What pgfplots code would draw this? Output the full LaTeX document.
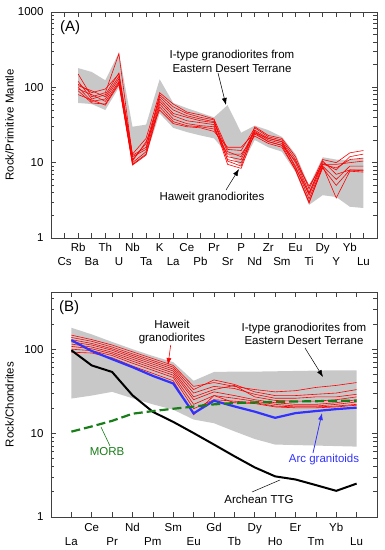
\documentclass[border=0pt]{standalone}
\usepackage{fontspec}
\setmainfont{Liberation Sans}
\usepackage{pgfplots}
\usepackage{pgfplotstable}
\pgfplotsset{compat=1.18}
\usetikzlibrary{arrows.meta}
\definecolor{envgray}{RGB}{200,200,200}
\definecolor{arcblue}{RGB}{50,50,255}
\definecolor{morbgreen}{RGB}{25,125,25}
\newcommand{\lbl}{\fontsize{11.5}{13.5}\selectfont}

\pgfplotstableread{
x r1 r2 r3 r4 r5 r6 r7 r8
1 150 120 110 105 100 95 90 80
2 75 70 85 90 65 80 62 68
3 85 80 95 75 70 65 60 58
4 280 155 150 140 130 120 115 110
5 12 13 11 12.5 10 9.5 9.3 10.5
6 15 21 18 16 14 13 12.6 19
7 80 85 75 70 65 60 55 50
8 55 60 50 45 42 38 35 33
9 45 47 42 40 36 33 31 30
10 40 43 38 36 34 31 30 29
11 37 38 35 34 32 30 28 26
12 10.5 15 14 12 9.5 11 13 16
13 9 14.5 12 11 8.4 10 13 16
14 30 29 27 26 25 24 22.5 25
15 23 22 21 20 21 19 18 19
16 21 20 19 18 19 17 16 17
17 12 11 10 9 8.5 8 8 10.5
18 4.5 4 3.7 3.3 3.9 3 2.9 4.9
19 11 10 9.5 9 10.5 8.5 9 9.5
20 10 8 9.5 6 7 5 3.4 8.5
21 13.5 12 10 9 8 8 7.7 11
22 14.5 13 10.5 9 8 7.8 7.5 11.5
}\tabA

\pgfplotstableread{
x r1 r2 r3 r4 r5 r6 r7 r8 arc ttg morb
0 147 138 130 122 115 108 100 92 128 97 10.4
1 130 124 117 112 106 101 96 90 95 64 12
2 112 106 101 97 92 88 84 79 76 53.5 14
3 93 88 84 80 76 72 68 63 61 28.2 17
4 nan nan nan nan nan nan nan nan 48 17.9 18.3
5 64 61 58 55 52 49 46 42 39 13.6 19.5
6 36 33 30 27 25 22 19.5 16.5 17.2 10 20.7
7 40 43 36 33 31 28 25 28 24.3 7.3 22
8 36 38 34 37 28 26 24 23 20.8 5.3 22.8
9 33 31 29 27 25 24 23 22.5 18 3.9 23.2
10 31 28 26 24.5 23 22 21 20.5 15.2 3.05 23.5
11 32 28 26 24 22 21 20.5 20 17.3 2.8 23.8
12 35 29 27 24 22 21 20.5 20 18.3 2.4 24
13 37 30 27 25 23 22 21 20.5 19.3 2.05 24.2
14 40 33 29 27 25 23.5 22 21.5 20.1 2.5 24.3
}\tabB

\pgfplotsset{
  spideraxis/.style={
    scale only axis, width=326pt, anchor=south west,
    axis line style={black!75, line width=0.8pt},
    tick style={black!75, line width=0.6pt},
    tick align=inside, major tick length=5pt, minor tick length=3.5pt,
    log ticks with fixed point,
    tick label style={font=\lbl},
    xticklabel style={anchor=base, yshift=-14pt},
    yticklabel style={xshift=-4pt},
    every axis y label/.style={at={(axis description cs:0,0.5)}, xshift=-41.5pt, rotate=90, anchor=center, font=\lbl},
    extra x tick style={xticklabel style={yshift=-14pt}},
  },
  redline/.style={red, line width=0.6pt, no marks},
}

\begin{document}
\begin{tikzpicture}[x=1pt,y=1pt]
\path[use as bounding box] (0,0) rectangle (384,550);

\begin{semilogyaxis}[spideraxis, /pgf/number format/assume math mode=true, /pgf/number format/1000 sep={},
  at={(51pt,312pt)}, height=226pt,
  xmin=-1, xmax=23, ymin=1, ymax=1000,
  ylabel={Rock/Primitive Mantle},
  xtick={1,3,...,21}, xticklabels={Rb,Th,Nb,K,Ce,Pr,P,Zr,Eu,Dy,Yb},
  extra x ticks={0,2,...,22}, extra x tick labels={Cs,Ba,U,Ta,La,Pb,Sr,Nd,Sm,Ti,Y,Lu},
]
% envelope of I-type granodiorites (upper Rb->Lu, then lower Lu->Rb)
\addplot[fill=envgray, draw=none, no marks] coordinates {
 (1,180) (2,160) (3,124) (4,290) (5,30) (6,32) (7,128) (8,62) (9,53) (10,46) (11,40)
 (12,58) (13,25) (14,31) (15,27) (16,22) (17,13) (18,5) (19,11.8) (20,11) (21,10.8) (22,11.5)
 (22,2.5) (21,2.6) (20,3.5) (19,3.7) (18,2.75) (17,7.5) (16,14) (15,16) (14,20) (13,9)
 (12,13) (11,21) (10,23) (9,25.5) (8,29) (7,45) (6,12.5) (5,9.2) (4,100) (3,50) (2,60) (1,62)
} -- cycle;
\addplot[redline] table[x=x,y=r1]{\tabA};
\addplot[redline] table[x=x,y=r2]{\tabA};
\addplot[redline] table[x=x,y=r3]{\tabA};
\addplot[redline] table[x=x,y=r4]{\tabA};
\addplot[redline] table[x=x,y=r5]{\tabA};
\addplot[redline] table[x=x,y=r6]{\tabA};
\addplot[redline] table[x=x,y=r7]{\tabA};
\addplot[redline] table[x=x,y=r8]{\tabA};
\end{semilogyaxis}

\begin{semilogyaxis}[spideraxis, /pgf/number format/assume math mode=true, /pgf/number format/1000 sep={},
  at={(51pt,33pt)}, height=225pt,
  xmin=-1, xmax=15, ymin=1, ymax=480,
  ylabel={Rock/Chondrites},
  xtick={1,3,...,13}, xticklabels={Ce,Nd,Sm,Gd,Dy,Er,Yb},
  extra x ticks={0,2,...,14}, extra x tick labels={La,Pr,Pm,Eu,Tb,Ho,Tm,Lu},
]
\addplot[fill=envgray, draw=none, no marks] coordinates {
 (0,180) (1,150) (2,122) (3,100) (4,83) (5,70) (6,42) (7,53.5) (8,54) (9,54) (10,54.5)
 (11,55) (12,55.5) (13,56) (14,56)
 (14,6.9) (13,7.0) (12,7.1) (11,7.2) (10,7.3) (9,8.5) (8,10.5) (7,13.1) (6,14.5) (5,19)
 (4,22) (3,26) (2,31) (1,28) (0,25.8)
} -- cycle;
\addplot[redline] table[x=x,y=r1]{\tabB};
\addplot[redline] table[x=x,y=r2]{\tabB};
\addplot[redline] table[x=x,y=r3]{\tabB};
\addplot[redline] table[x=x,y=r4]{\tabB};
\addplot[redline] table[x=x,y=r5]{\tabB};
\addplot[redline] table[x=x,y=r6]{\tabB};
\addplot[redline] table[x=x,y=r7]{\tabB};
\addplot[redline] table[x=x,y=r8]{\tabB};
\addplot[black, line width=2pt, no marks] table[x=x,y=ttg]{\tabB};
\addplot[arcblue, line width=2.2pt, no marks] table[x=x,y=arc]{\tabB};
\addplot[morbgreen, line width=2.2pt, dash pattern=on 9pt off 4pt, no marks] table[x=x,y=morb]{\tabB};
\end{semilogyaxis}

% annotations panel A
\node[anchor=west, inner sep=0pt, font=\fontsize{15}{18}\selectfont] at (60,522) {(A)};
\node[align=center, font=\lbl, inner sep=0pt] at (232,488.5) {I-type granodiorites from\\Eastern Desert Terrane};
\draw[black, line width=0.5pt, -{Latex[length=7pt,width=5pt]}] (218,477) -- (226,445);
\node[font=\lbl, inner sep=0pt] at (212,352) {Haweit granodiorites};
\draw[black, line width=0.5pt, -{Latex[length=7pt,width=5pt]}] (226,360) -- (239,381);

% annotations panel B
\node[anchor=west, inner sep=0pt, font=\fontsize{15}{18}\selectfont] at (59,242.5) {(B)};
\node[align=center, font=\lbl, inner sep=0pt] at (172,218) {Haweit\\granodiorites};
\draw[red, line width=0.6pt, -{Latex[length=7pt,width=5pt]}] (170.7,205) -- (168,185);
\node[align=center, font=\lbl, inner sep=0pt] at (304,216) {I-type granodiorites from\\Eastern Desert Terrane};
\draw[black, line width=0.5pt, -{Latex[length=7pt,width=5pt]}] (305,202) -- (323,173);
\node[font=\lbl, text=morbgreen, inner sep=0pt] at (107,98) {MORB};
\draw[morbgreen, line width=0.6pt] (101,123) -- (110,104);
\node[font=\lbl, text=arcblue, inner sep=0pt] at (324,90) {Arc granitoids};
\draw[arcblue, line width=0.8pt, -{Latex[length=7pt,width=5pt]}] (313,97) -- (322,137);
\node[font=\lbl, inner sep=0pt] at (259,51) {Archean TTG};
\draw[black, line width=0.5pt] (252,58) -- (280,70);
\end{tikzpicture}
\end{document}
